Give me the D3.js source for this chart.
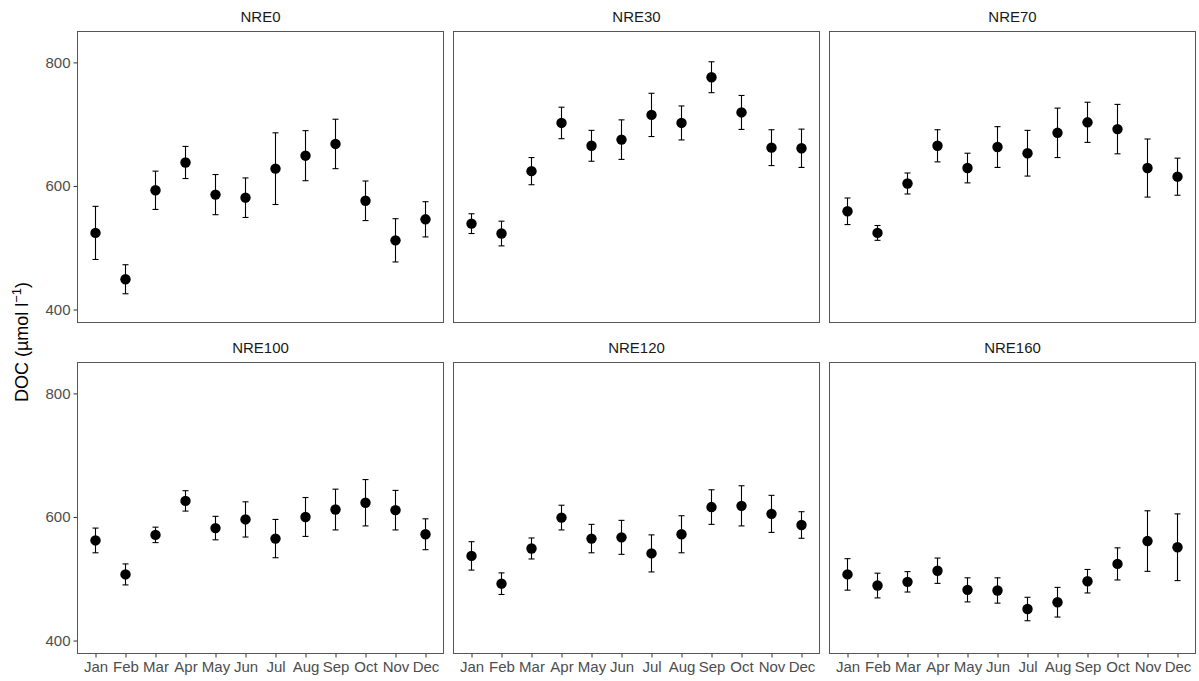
<!DOCTYPE html>
<html>
<head>
<meta charset="utf-8">
<script src="https://cdn.jsdelivr.net/npm/d3@7"></script>
<style>
  body { margin: 0; background: #fff; }
  svg { display: block; font-family: "Liberation Sans", Arial, sans-serif; }
</style>
</head>
<body>
<script>
'use strict';

// months on the x axis
const months = ['Jan', 'Feb', 'Mar', 'Apr', 'May', 'Jun', 'Jul', 'Aug', 'Sep', 'Oct', 'Nov', 'Dec'];
const yTicks = [400, 600, 800];

// monthly mean DOC and error (half bar) per site
const nre0Mean   = [524, 449, 593, 638, 586, 581, 628, 649, 668, 576, 512, 546];
const nre0Err    = [43, 23.5, 31, 26, 32.5, 32, 58, 40.5, 40, 32, 35, 28.5];
const nre30Mean  = [539, 523, 624, 702, 665, 675, 715, 702, 776, 719, 662, 661];
const nre30Err   = [16, 20, 22, 25.5, 25, 32, 35, 27.5, 25, 27.5, 29, 31];
const nre70Mean  = [559, 524, 604, 665, 629, 663, 653, 686, 703, 692, 629, 615];
const nre70Err   = [21.5, 12, 17, 26, 24, 33, 37, 40, 32.5, 40, 47, 30];
const nre100Mean = [562, 507, 571, 626, 582, 596, 565, 600, 612, 623, 611, 572];
const nre100Err  = [20, 17, 12.5, 16.5, 19, 28.5, 31, 31.5, 33, 37.5, 32, 25];
const nre120Mean = [537, 492, 549, 599, 565, 567, 541, 572, 616, 618, 605, 587];
const nre120Err  = [23, 17.5, 17, 20, 23, 27.5, 30, 30, 28, 32.5, 30, 21.5];
const nre160Mean = [507, 489, 495, 513, 482, 481, 451, 462, 496, 524, 561, 551];
const nre160Err  = [25.5, 20, 16.5, 20.5, 19.5, 20.5, 19, 24, 19, 26, 49, 54];

const sites = ['NRE0', 'NRE30', 'NRE70', 'NRE100', 'NRE120', 'NRE160'];
const siteMeans = [nre0Mean, nre30Mean, nre70Mean, nre100Mean, nre120Mean, nre160Mean];
const siteErrs = [nre0Err, nre30Err, nre70Err, nre100Err, nre120Err, nre160Err];

const W = 1199, H = 681;
const colLeft = [77.5, 453.5, 829.5];
const rowTop = [31.5, 362.5];
const pw = 366, ph = 291;

const svg = d3.select('body').append('svg')
  .attr('width', W)
  .attr('height', H);

const x = d3.scalePoint().domain(months).range([0, pw]).padding(0.6);
const y = d3.scaleLinear().domain([379, 850]).range([ph, 0]);

sites.forEach((site, i) => {
  const col = i % 3, row = Math.floor(i / 3);
  const g = svg.append('g')
    .attr('transform', `translate(${colLeft[col]},${rowTop[row]})`);

  const data = months.map((m, k) => ({ m: m, v: siteMeans[i][k], e: siteErrs[i][k] }));

  // strip title
  g.append('text')
    .attr('x', pw / 2)
    .attr('y', -9.5)
    .attr('text-anchor', 'middle')
    .style('font-size', '15px')
    .style('fill', '#1a1a1a')
    .text(site);

  // y axis only on the first column
  if (col === 0) {
    const ya = g.append('g')
      .call(d3.axisLeft(y).tickValues(yTicks).tickSize(4).tickPadding(3));
    ya.select('.domain').remove();
    ya.selectAll('line').attr('stroke', '#333');
    ya.selectAll('text').style('font-size', '15px').style('fill', '#4d4d4d');
  }

  // x axis only on the bottom row
  if (row === 1) {
    const xa = g.append('g')
      .attr('transform', `translate(0,${ph})`)
      .call(d3.axisBottom(x).tickSize(4).tickPadding(4));
    xa.select('.domain').remove();
    xa.selectAll('line').attr('stroke', '#333');
    xa.selectAll('text').style('font-size', '15px').style('fill', '#4d4d4d');
  }

  // error bars
  const eb = g.selectAll('.eb')
    .data(data)
    .enter().append('g')
    .classed('eb', true);
  eb.append('line')
    .attr('x1', d => x(d.m)).attr('x2', d => x(d.m))
    .attr('y1', d => y(d.v + d.e)).attr('y2', d => y(d.v - d.e));
  eb.append('line')
    .attr('x1', d => x(d.m) - 3).attr('x2', d => x(d.m) + 3)
    .attr('y1', d => y(d.v + d.e)).attr('y2', d => y(d.v + d.e));
  eb.append('line')
    .attr('x1', d => x(d.m) - 3).attr('x2', d => x(d.m) + 3)
    .attr('y1', d => y(d.v - d.e)).attr('y2', d => y(d.v - d.e));
  eb.selectAll('line').attr('stroke', '#000').attr('stroke-width', 1.1);

  g.selectAll('circle')
    .data(data)
    .enter().append('circle')
    .attr('cx', d => x(d.m))
    .attr('cy', d => y(d.v))
    .attr('r', 5.2)
    .attr('fill', '#000');

  // panel border
  g.append('rect')
    .attr('width', pw)
    .attr('height', ph)
    .attr('fill', 'none')
    .attr('stroke', '#555')
    .attr('stroke-width', 1);
});

// y axis title
const title = svg.append('text')
  .attr('transform', 'translate(28,342) rotate(-90)')
  .attr('text-anchor', 'middle')
  .style('font-size', '18px')
  .style('fill', '#000');
title.append('tspan').text('DOC (µmol l');
title.append('tspan').attr('dy', -7).style('font-size', '13px').text('−1');
title.append('tspan').attr('dy', 7).text(')');
</script>
</body>
</html>
